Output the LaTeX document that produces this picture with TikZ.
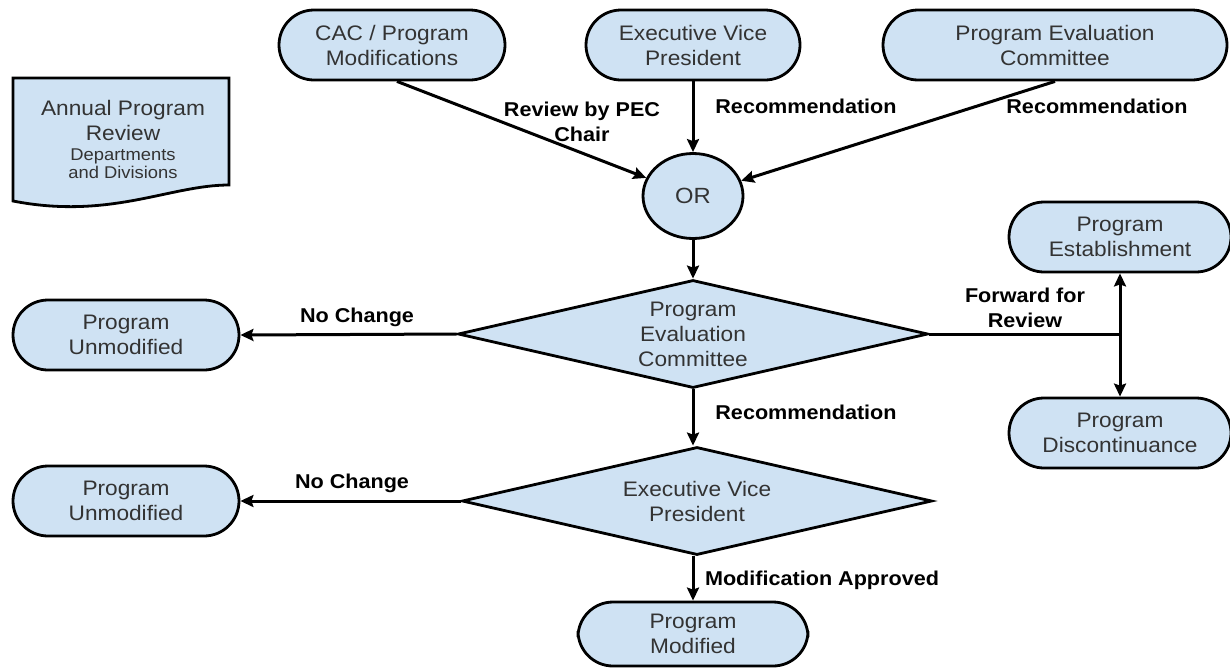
\documentclass[tikz,border=0pt]{standalone}
\usepackage{fontspec}
\setmainfont{Liberation Sans}[FakeStretch=1.08]
\usetikzlibrary{arrows.meta,shapes.geometric}
\definecolor{nodeblue}{HTML}{CFE2F3}
\definecolor{txtgray}{HTML}{333333}
\newcommand{\smallsz}{\fontsize{17}{18}\selectfont}
\begin{document}
\begin{tikzpicture}[x=1pt,y=-1pt,
  box/.style={draw=black, line width=2.8pt, fill=nodeblue, rounded corners=35pt,
    minimum height=70pt, minimum width=226pt, inner sep=0pt, align=center,
    text=txtgray, font=\fontsize{21}{25}\selectfont},
  dec/.style={diamond, draw=black, line width=2.8pt, fill=nodeblue, aspect=4.35,
    inner sep=0pt, minimum width=470pt, minimum height=108pt, align=center,
    text=txtgray, font=\fontsize{21}{25}\selectfont},
  orshape/.style={ellipse, draw=black, line width=2.8pt, fill=nodeblue,
    minimum width=100pt, minimum height=85pt, inner sep=0pt,
    text=txtgray, font=\fontsize{22}{26}\selectfont},
  arr/.style={line width=3pt, -{Stealth[length=13pt,width=12pt,inset=2pt]}},
  dblarr/.style={line width=3pt, {Stealth[length=13pt,width=12pt,inset=2pt]}-{Stealth[length=13pt,width=12pt,inset=2pt]}},
  plain/.style={line width=3pt},
  lbl/.style={font=\bfseries\fontsize{20}{25}\selectfont, align=center, text=black}]
\useasboundingbox (0,0) rectangle (1230,667);

% document shape
\draw[line width=2.8pt, fill=nodeblue] (13,78) -- (229,78) -- (229,185)
  .. controls (170,185) and (110,220) .. (13,201) -- cycle;
\node[align=center, text=txtgray, font=\fontsize{21}{25}\selectfont] (doc) at (123,139)
  {Annual Program\\Review\\[-5pt]\smallsz Departments\\[-7pt]\smallsz and Divisions};

% top nodes
\node[box] (cac) at (392,45) {CAC / Program\\Modifications};
\node[box, minimum width=214pt] (evp) at (693,45) {Executive Vice\\President};
\node[box, minimum width=344pt] (pec) at (1055,45) {Program Evaluation\\Committee};

\node[orshape] (or) at (693,196) {OR};

\node[dec] (d1) at (693,334) {Program\\Evaluation\\Committee};
\node[dec] (d2) at (697,501) {Executive Vice\\President};

\node[box] (un1) at (126,335) {Program\\Unmodified};
\node[box] (un2) at (126,501) {Program\\Unmodified};

\node[box, minimum width=222pt] (est) at (1120,237) {Program\\Establishment};
\node[box, minimum width=222pt] (dis) at (1120,433) {Program\\Discontinuance};

\node[box, minimum width=230pt, minimum height=64pt] (pm) at (693,634) {Program\\Modified};

% connectors
\draw[arr] ([xshift=5pt]cac.south) -- (or);
\draw[arr] (evp.south) -- (or.north);
\draw[arr] (pec.south) -- (or);
\draw[arr] (or.south) -- (d1.north);
\draw[arr] (d1.south) -- (d2.north -| d1.south);
\draw[arr] (d2.south -| d1.south) -- (pm.north);
\draw[arr] (d1.west) -- (un1.east);
\draw[arr] (d2.west) -- (un2.east);
\coordinate (fj) at (est.south |- d1.east);
\draw[plain] (d1.east) -- (fj);
\draw[dblarr] (est.south) -- (dis.north);

% labels
\node[lbl] (l1) at (582,122) {Review by PEC\\Chair};
\node[lbl] (l2) at (806,106) {Recommendation};
\node[lbl] (l3) at (1097,106) {Recommendation};
\node[lbl] (l4) at (357,317) {No Change};
\node[lbl] (l5) at (1025,308) {Forward for\\Review};
\node[lbl] (l6) at (806,412) {Recommendation};
\node[lbl] (l7) at (352,483) {No Change};
\node[lbl] (l8) at (822,580) {Modification Approved};
\end{tikzpicture}
\end{document}
